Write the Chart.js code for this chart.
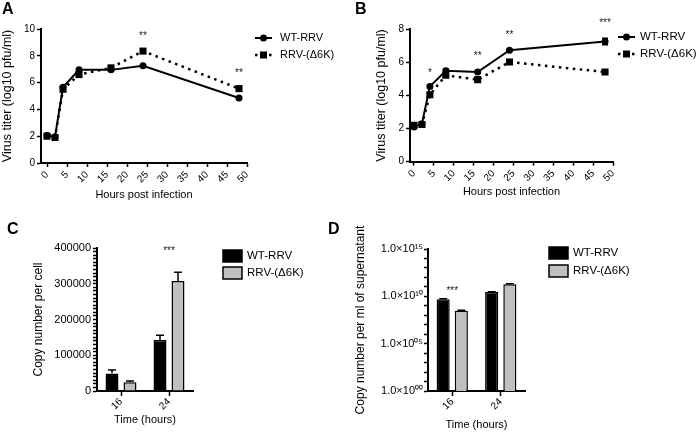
<!DOCTYPE html>
<html>
<head>
<meta charset="utf-8">
<script src="https://cdn.jsdelivr.net/npm/chart.js@4.4.1/dist/chart.umd.min.js"></script>
<style>
  html, body { margin: 0; padding: 0; background: #fff; }
  #fig { position: relative; width: 700px; height: 433px; overflow: hidden; font-family: "Liberation Sans", Arial, sans-serif; }
  canvas { position: absolute; }
  .letter { position: absolute; font-weight: bold; font-size: 16px; line-height: 16px; color: #000; }
</style>
</head>
<body>
<div id="fig">
  <canvas id="chartA" style="left:0;top:0" width="347" height="215"></canvas>
  <canvas id="chartB" style="left:350px;top:0" width="350" height="215"></canvas>
  <canvas id="chartC" style="left:0;top:220px" width="350" height="213"></canvas>
  <canvas id="chartD" style="left:350px;top:220px" width="350" height="213"></canvas>
  <div class="letter" style="left:2px;top:1px">A</div>
  <div class="letter" style="left:355px;top:1px">B</div>
  <div class="letter" style="left:7px;top:221px">C</div>
  <div class="letter" style="left:328px;top:221px">D</div>
</div>
<script>
const FONT = '"Liberation Sans", Arial, sans-serif';
Chart.defaults.font.family = FONT;
Chart.defaults.color = '#000';
Chart.defaults.animation = false;

// Panel A: virus titer over time
const hoursA = [0, 2, 4, 8, 16, 24, 48];
const wtA = [2.05, 1.95, 5.65, 6.95, 6.95, 7.25, 4.85];
const wtErrA = [0.05, 0.05, 0.1, 0.1, 0.1, 0.05, 0.05];
const d6kA = [2.0, 1.9, 5.5, 6.6, 7.1, 8.35, 5.55];
const d6kErrA = [0.05, 0.1, 0.15, 0.15, 0.1, 0.1, 0.1];
const sigHoursA = [24, 48];
const sigTextA = ['**', '**'];
const sigLevelA = [9.68, 6.89];

// Panel B: virus titer over time, second experiment
const hoursB = [0, 2, 4, 8, 16, 24, 48];
const wtB = [2.1, 2.3, 4.55, 5.5, 5.42, 6.74, 7.26];
const wtErrB = [0.05, 0.05, 0.1, 0.1, 0.05, 0.05, 0.2];
const d6kB = [2.2, 2.25, 4.05, 5.22, 4.96, 6.02, 5.42];
const d6kErrB = [0.05, 0.05, 0.1, 0.1, 0.05, 0.05, 0.05];
const sigHoursB = [4, 16, 24, 48];
const sigTextB = ['*', '**', '**', '***'];
const sigLevelB = [5.54, 6.55, 7.85, 8.52];

const hourTicks = [0, 5, 10, 15, 20, 25, 30, 35, 40, 45, 50];
const titerTicksA = [0, 2, 4, 6, 8, 10];
const titerTicksB = [0, 2, 4, 6, 8];

// Panel C: copies per cell
const timesC = ['16', '24'];
const wtC = [49000, 143000];
const wtErrC = [9500, 13000];
const d6kC = [24500, 308000];
const d6kErrC = [3500, 24000];
const sigTimesC = ['24'];
const sigTextC = ['***'];
const sigLevelC = [399000];
const cellMajorTicks = [0, 100000, 200000, 300000, 400000];
const cellMinorStep = 10000;

// Panel D: copies per ml of supernatant (log axis)
const timesD = ['16', '24'];
const wtD = [5.0e9, 2.8e10];
const wtErrD = [4e8, 2e9];
const d6kD = [3.0e8, 1.9e11];
const d6kErrD = [4e7, 3e10];
const sigTimesD = ['16'];
const sigTextD = ['***'];
const sigLevelD = [8e10];
const logTickLabels = ['1.0×10⁰⁰', '1.0×10⁰⁵', '1.0×10¹⁰', '1.0×10¹⁵'];

// error bars, drawn on top of lines / bars
const errorBars = {
  id: 'errorBars',
  afterDatasetsDraw(chart) {
    const ctx = chart.ctx;
    chart.data.datasets.forEach((ds, i) => {
      if (!ds.errors) return;
      const meta = chart.getDatasetMeta(i);
      const ys = chart.scales[meta.yAxisID];
      const cap = ds.upOnly ? 4 : 3;
      ctx.save();
      ctx.strokeStyle = '#000';
      ctx.lineWidth = 1.5;
      meta.data.forEach((el, j) => {
        const d = ds.data[j];
        const v = typeof d === 'object' ? d.y : d;
        const top = ys.getPixelForValue(v + ds.errors[j]);
        const bottom = ds.upOnly ? el.y : ys.getPixelForValue(v - ds.errors[j]);
        ctx.beginPath();
        ctx.moveTo(el.x, bottom);
        ctx.lineTo(el.x, top);
        ctx.moveTo(el.x - cap, top);
        ctx.lineTo(el.x + cap, top);
        if (!ds.upOnly) {
          ctx.moveTo(el.x - cap, bottom);
          ctx.lineTo(el.x + cap, bottom);
        }
        ctx.stroke();
      });
      ctx.restore();
    });
  }
};

// significance asterisks
function sigMarks(at, levels, marks, size) {
  return {
    id: 'sigMarks',
    afterDraw(chart) {
      const ctx = chart.ctx, xs = chart.scales.x, ys = chart.scales.y;
      ctx.save();
      ctx.font = size + 'px ' + FONT;
      ctx.fillStyle = '#222';
      ctx.textAlign = 'center';
      ctx.textBaseline = 'alphabetic';
      at.forEach((x, i) => {
        const px = xs.getPixelForValue(typeof x === 'string' ? xs.getLabels().indexOf(x) : x);
        const py = ys.getPixelForValue(levels[i]) + size * 0.58;
        ctx.fillText(marks[i], px, py);
      });
      ctx.restore();
    }
  };
}

// legend at the right of each panel
function sideLegend(cfg) {
  return {
    id: 'sideLegend',
    afterDraw(chart) {
      const ctx = chart.ctx;
      ctx.save();
      ctx.font = cfg.size + 'px ' + FONT;
      ctx.textBaseline = 'middle';
      chart.data.datasets.forEach((ds, i) => {
        const y = cfg.top + i * cfg.gap;
        const x = cfg.left;
        if (cfg.kind === 'bar') {
          ctx.fillStyle = ds.backgroundColor;
          ctx.fillRect(x, y - 6, 19, 12);
          ctx.strokeStyle = '#000';
          ctx.lineWidth = 1.5;
          ctx.strokeRect(x, y - 6, 19, 12);
        } else {
          ctx.strokeStyle = '#000';
          ctx.lineWidth = ds.borderWidth;
          ctx.setLineDash(ds.borderDash);
          ctx.beginPath();
          ctx.moveTo(x, y);
          ctx.lineTo(x + cfg.len, y);
          ctx.stroke();
          ctx.setLineDash([]);
          ctx.fillStyle = '#000';
          const cx = x + cfg.len / 2;
          if (ds.pointStyle === 'rect') ctx.fillRect(cx - 3.5, y - 3.5, 7, 7);
          else { ctx.beginPath(); ctx.arc(cx, y, 3.5, 0, Math.PI * 2); ctx.fill(); }
        }
        ctx.fillStyle = '#000';
        ctx.fillText(ds.label, cfg.textLeft, y);
      });
      ctx.restore();
    }
  };
}

function axisStyle(tickLen) {
  return {
    grid: { drawOnChartArea: false, drawTicks: true, tickLength: tickLen, tickColor: '#000', tickWidth: 1.5 },
    border: { display: true, color: '#000', width: 2 }
  };
}

function lineSet(label, hours, values, errs, mutant) {
  return {
    label,
    data: hours.map((h, i) => ({ x: h, y: values[i] })),
    errors: errs,
    borderColor: '#000',
    backgroundColor: '#000',
    borderWidth: mutant ? 2.5 : 2,
    borderDash: mutant ? [2.5, 4.5] : [],
    pointStyle: mutant ? 'rect' : 'circle',
    pointRadius: mutant ? 5 : 3.5,
    pointBorderWidth: 0,
    tension: 0
  };
}

function barSet(label, values, errs, color) {
  return {
    label, data: values, errors: errs, upOnly: true,
    backgroundColor: color, borderColor: '#000', borderWidth: 1.5,
    categoryPercentage: 0.75, barPercentage: 0.72
  };
}

function hoursAxis(min, max, height) {
  return {
    type: 'linear', min, max, bounds: 'data',
    afterBuildTicks: s => { s.ticks = hourTicks.map(v => ({ value: v })); },
    afterFit: s => { s.height = height; },
    ticks: { font: { size: 10 }, minRotation: 45, maxRotation: 45, padding: 2, autoSkip: false },
    title: { display: true, text: 'Hours post infection', font: { size: 11 }, padding: 0 },
    ...axisStyle(4)
  };
}

function titerAxis(ticks, max, width) {
  return {
    type: 'linear', min: 0, max,
    afterBuildTicks: s => { s.ticks = ticks.map(v => ({ value: v })); },
    afterFit: s => { s.width = width; },
    ticks: { font: { size: 10 }, padding: 2 },
    title: { display: true, text: 'Virus titer (log10 pfu/ml)', font: { size: 12.5 }, padding: 0 },
    ...axisStyle(4)
  };
}

function timeAxis(height) {
  return {
    type: 'category',
    afterFit: s => { s.height = height; },
    ticks: { font: { size: 10 }, minRotation: 45, maxRotation: 45, padding: 0 },
    title: { display: true, text: 'Time (hours)', font: { size: 11 }, padding: 0 },
    ...axisStyle(5),
    grid: { offset: false, drawOnChartArea: false, tickLength: 5, tickColor: '#000', tickWidth: 1.5 }
  };
}

const noLegend = { legend: { display: false }, tooltip: { enabled: false } };

new Chart(document.getElementById('chartA'), {
  type: 'line',
  data: { datasets: [
    lineSet('WT-RRV', hoursA, wtA, wtErrA, false),
    lineSet('RRV-(Δ6K)', hoursA, d6kA, d6kErrA, true)
  ] },
  options: {
    responsive: false,
    layout: { padding: { left: 0, top: 29, right: 100, bottom: 13.4 } },
    scales: { x: hoursAxis(-1.5, 50, 38.6), y: titerAxis(titerTicksA, 10, 41) },
    plugins: noLegend
  },
  plugins: [errorBars, sigMarks(sigHoursA, sigLevelA, sigTextA, 10),
    sideLegend({ left: 255, top: 38, gap: 17, len: 17, textLeft: 280, size: 11, kind: 'line' })]
});

new Chart(document.getElementById('chartB'), {
  type: 'line',
  data: { datasets: [
    lineSet('WT-RRV', hoursB, wtB, wtErrB, false),
    lineSet('RRV-(Δ6K)', hoursB, d6kB, d6kErrB, true)
  ] },
  options: {
    responsive: false,
    layout: { padding: { left: 24.5, top: 29.3, right: 87, bottom: 16.4 } },
    scales: { x: hoursAxis(-1, 50, 36.9), y: titerAxis(titerTicksB, 8, 35.5) },
    plugins: noLegend
  },
  plugins: [errorBars, sigMarks(sigHoursB, sigLevelB, sigTextB, 10),
    sideLegend({ left: 268, top: 37, gap: 17, len: 17, textLeft: 290, size: 11.5, kind: 'line' })]
});

new Chart(document.getElementById('chartC'), {
  type: 'bar',
  data: { labels: timesC, datasets: [
    barSet('WT-RRV', wtC, wtErrC, '#000'),
    barSet('RRV-(Δ6K)', d6kC, d6kErrC, '#c0c0c0')
  ] },
  options: {
    responsive: false,
    layout: { padding: { left: 31, top: 28, right: 157, bottom: 6 } },
    scales: {
      x: timeAxis(36),
      y: {
        type: 'linear', min: 0, max: 400000,
        afterBuildTicks: s => {
          const t = [];
          for (let v = 0; v <= 400000; v += cellMinorStep) t.push({ value: v });
          s.ticks = t;
        },
        afterFit: s => { s.width = 66; },
        ticks: { font: { size: 11 }, padding: 2, autoSkip: false,
          callback: v => (cellMajorTicks.includes(v) ? String(v) : '') },
        title: { display: true, text: 'Copy number per cell', font: { size: 12 }, padding: 0 },
        ...axisStyle(4)
      }
    },
    plugins: noLegend
  },
  plugins: [errorBars, sigMarks(sigTimesC, sigLevelC, sigTextC, 10),
    sideLegend({ left: 223, top: 36, gap: 17, textLeft: 247, size: 11.5, kind: 'bar' })]
});

new Chart(document.getElementById('chartD'), {
  type: 'bar',
  data: { labels: timesD, datasets: [
    barSet('WT-RRV', wtD, wtErrD, '#000'),
    barSet('RRV-(Δ6K)', d6kD, d6kErrD, '#c0c0c0')
  ] },
  options: {
    responsive: false,
    layout: { padding: { left: 3, top: 29, right: 175, bottom: 1 } },
    scales: {
      x: timeAxis(41),
      y: {
        type: 'logarithmic', min: 1, max: 1e15,
        afterBuildTicks: s => {
          const t = [];
          for (let e = 0; e <= 15; e++) t.push({ value: Math.pow(10, e) });
          s.ticks = t;
        },
        afterFit: s => { s.width = 75; },
        ticks: { font: { size: 11 }, padding: 1, autoSkip: false,
          callback: v => {
            const e = Math.round(Math.log10(v));
            return e % 5 === 0 ? logTickLabels[e / 5] : '';
          } },
        title: { display: true, text: 'Copy number per ml of supernatant', font: { size: 12 }, padding: 0 },
        ...axisStyle(4)
      }
    },
    plugins: noLegend
  },
  plugins: [errorBars, sigMarks(sigTimesD, sigLevelD, sigTextD, 10),
    sideLegend({ left: 199, top: 33, gap: 18, textLeft: 223, size: 11.5, kind: 'bar' })]
});
</script>
</body>
</html>
